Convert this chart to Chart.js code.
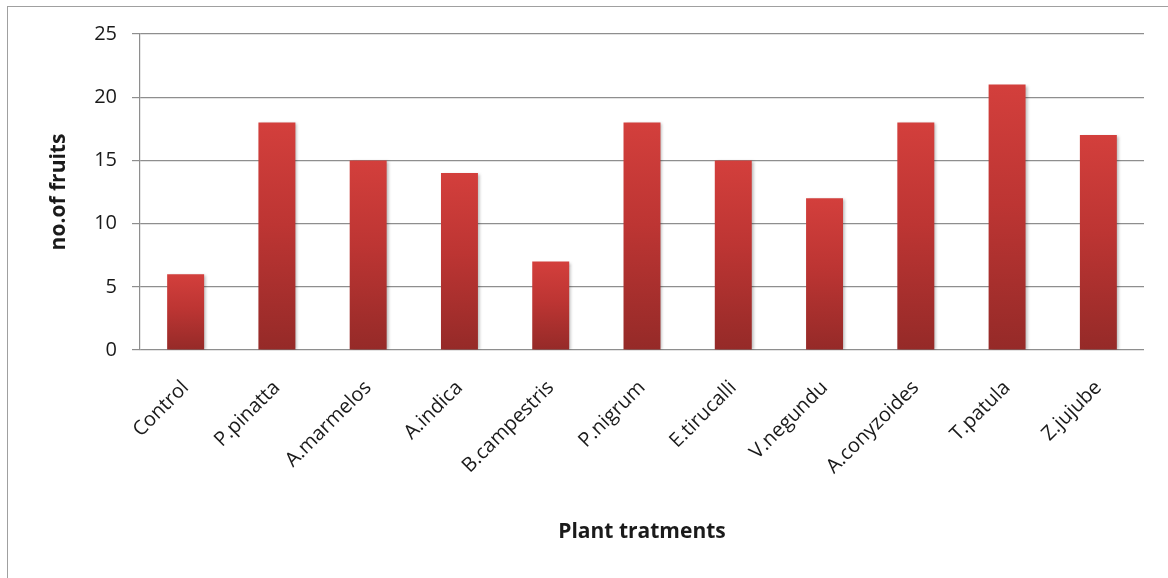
<!DOCTYPE html>
<html>
<head>
<meta charset="utf-8">
<script src="https://cdn.jsdelivr.net/npm/chart.js@4/dist/chart.umd.min.js"></script>
<style>
  html, body { margin: 0; padding: 0; background: #fff; }
  #wrap { position: relative; width: 1168px; height: 578px; overflow: hidden; }
  #frame { position: absolute; left: 7px; top: 6px; width: 1200px; height: 600px;
           border-left: 1.5px solid #a0a0a0; border-top: 1.5px solid #a0a0a0; }
  canvas { position: absolute; left: 0; top: 0; }
</style>
</head>
<body>
<div id="wrap">
  <div id="frame"></div>
  <canvas id="barChart" width="1168" height="578"></canvas>
</div>
<script>
// categories and values
const plants = ['Control', 'P.pinatta', 'A.marmelos', 'A.indica', 'B.campestris', 'P.nigrum',
                'E.tirucalli', 'V.negundu', 'A.conyzoides', 'T.patula', 'Z.jujube'];
const fruits = [6, 18, 15, 14, 7, 18, 15, 12, 18, 21, 17];
const yTicks = [0, 5, 10, 15, 20, 25];

const xTitle = 'Plant tratments';
const yTitle = 'no.of fruits';

const fontFamily = '"Open Sans", sans-serif';
const textColor = '#1a1a1a';
const gridColor = '#8e8e8e';

// gradient per bar, light at top, dark at bottom
const barFill = (context) => {
    const chart = context.chart;
    const { ctx, chartArea } = chart;
    if (!chartArea || context.parsed === undefined) return '#c0392f';
    const yScale = chart.scales.y;
    const top = yScale.getPixelForValue(context.parsed.y);
    const bottom = yScale.getPixelForValue(0);
    const g = ctx.createLinearGradient(0, top, 0, bottom);
    g.addColorStop(0, '#d33f3c');
    g.addColorStop(0.45, '#bd3533');
    g.addColorStop(1, '#952a28');
    return g;
};

// soft shadow behind bars
const barShadow = {
    id: 'barShadow',
    beforeDatasetsDraw(chart) {
        const ctx = chart.ctx;
        ctx.save();
        ctx.shadowColor = 'rgba(0,0,0,0.28)';
        ctx.shadowBlur = 3;
        ctx.shadowOffsetX = 2;
        ctx.shadowOffsetY = 1;
    },
    afterDatasetsDraw(chart) {
        chart.ctx.restore();
    }
};

const ctx = document.getElementById('barChart').getContext('2d');
new Chart(ctx, {
    type: 'bar',
    data: {
        labels: plants,
        datasets: [{
            data: fruits,
            backgroundColor: barFill,
            borderWidth: 0,
            barPercentage: 0.405,
            categoryPercentage: 1
        }]
    },
    plugins: [barShadow],
    options: {
        responsive: false,
        animation: false,
        layout: { padding: { top: 34, right: 24, bottom: 0, left: 0 } },
        plugins: {
            legend: { display: false },
            tooltip: { enabled: false }
        },
        scales: {
            x: {
                afterFit: (scale) => { scale.height = 228; },
                grid: { display: false, drawTicks: false },
                border: { display: false },
                ticks: {
                    minRotation: 45,
                    maxRotation: 45,
                    padding: 26,
                    color: textColor,
                    font: { family: fontFamily, size: 20 }
                },
                title: {
                    display: true,
                    text: xTitle,
                    color: textColor,
                    font: { family: fontFamily, size: 21, weight: 'bold' },
                    padding: { top: 0, bottom: 33 }
                }
            },
            y: {
                min: 0,
                max: 25,
                afterFit: (scale) => { scale.width = 140; },
                afterBuildTicks: (scale) => { scale.ticks = yTicks.map(v => ({ value: v })); },
                grid: { color: gridColor, lineWidth: 1.2, tickLength: 8, drawTicks: true },
                border: { display: true, color: gridColor, width: 1.2 },
                ticks: {
                    padding: 15,
                    color: textColor,
                    font: { family: fontFamily, size: 20 }
                },
                title: {
                    display: true,
                    text: yTitle,
                    color: textColor,
                    font: { family: fontFamily, size: 21, weight: 'bold' },
                    padding: { top: 46, bottom: 0 }
                }
            }
        }
    }
});
</script>
</body>
</html>
